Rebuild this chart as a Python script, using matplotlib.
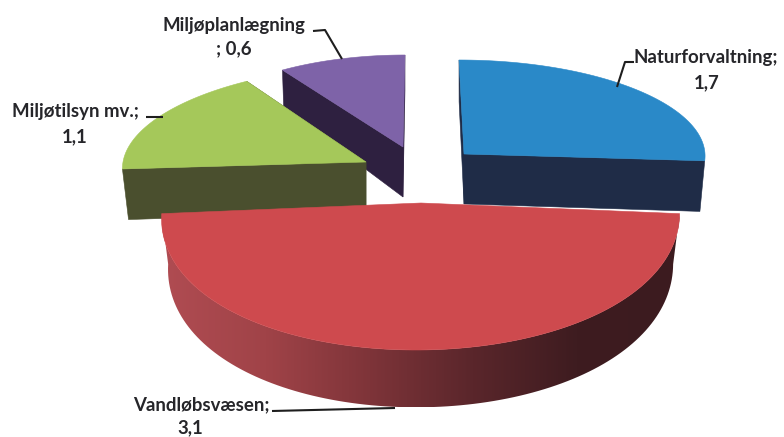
import numpy as np
import matplotlib
matplotlib.use("Agg")
import matplotlib.pyplot as plt
from matplotlib.colors import LinearSegmentedColormap
from matplotlib.patches import Polygon

categories = ["Naturforvaltning", "Vandløbsvæsen", "Miljøtilsyn mv.", "Miljøplanlægning"]
values = [1.7, 3.1, 1.1, 0.6]
label_lines = [["Naturforvaltning;", "1,7"], ["Vandløbsvæsen;", "3,1"],
               ["Miljøtilsyn mv.;", "1,1"], ["Miljøplanlægning", "; 0,6"]]
top_colors = ["#2A89C8", "#CE4A4E", "#A5C85A", "#7E63A8"]
side_colors = ["#1F2C47", None, "#4A4F2E", "#2E2040"]

# apex x, apex y, rx, ry, skew, mid depth, depth slope, bottom-radius scale, front widening, shear
geometry = {
    "Naturforvaltning": (464, 154, 241, 94, -5, 50, 10, 0.98, 0.0, 0.0),
    "Vandløbsvæsen": (421, 203, 258, 147, 5, 50, 11, 0.975, 0.03, -15.0),
    "Miljøtilsyn mv.": (366, 162, 243, 96.5, 16.6, 50, 10, 0.975, 0.0, 0.0),
    "Miljøplanlægning": (403, 147, 223, 92, 2, 50, 15.5, 0.99, 0.0, 0.0),
}
label_pos = {
    "Naturforvaltning": [(706, 57), (707, 83)],
    "Vandløbsvæsen": [(201, 405), (190, 428)],
    "Miljøtilsyn mv.": [(75, 111), (75, 137)],
    "Miljøplanlægning": [(234, 25), (234, 49)],
}
leaders = {
    "Naturforvaltning": [(634, 62), (625, 62), (617, 87)],
    "Vandløbsvæsen": [(272, 411), (395, 408)],
    "Miljøtilsyn mv.": [(146, 117), (163, 117)],
    "Miljøplanlægning": [(313, 31), (325, 30), (342, 59)],
}

fig = plt.figure(figsize=(7.84, 4.37), dpi=100, facecolor="white")
ax = fig.add_axes([0, 0, 1, 1])
ax.set_xlim(0, 784)
ax.set_ylim(437, 0)
ax.axis("off")


def rim(geo, t, lower=False):
    ax0, ay0, rx, ry, skew, d0, d1, k, p, q = geo
    wide = 1 - p * np.cos(t)
    dx = rx * wide * np.sin(t) + (skew + q * np.sin(t)) * np.cos(t)
    if lower:
        return ax0 + k * dx, ay0 - k * ry * np.cos(t) + d0 - d1 * np.cos(t)
    return ax0 + dx, ay0 - ry * np.cos(t)


edges = np.deg2rad(np.cumsum([0] + values) / sum(values) * 360)
wedges = {c: (edges[i], edges[i + 1]) for i, c in enumerate(categories)}
red_side = LinearSegmentedColormap.from_list(
    "red_side", ["#B04C52", "#A04348", "#7E3439", "#5A262B", "#3E1C20", "#3C1B1F"])


def draw(i, z):
    cat = categories[i]
    geo = geometry[cat]
    a, b = wedges[cat]
    ts = np.linspace(a, b, 120)
    ax0, ay0 = geo[0], geo[1]
    d0 = geo[5]
    xt, yt = rim(geo, ts)
    xb, yb = rim(geo, ts, lower=True)
    apex_low = (ax0, ay0 + d0)

    if cat == "Vandløbsvæsen":
        poly = np.r_[np.c_[xt, yt], np.c_[xb, yb][::-1]]
        patch = Polygon(poly, closed=True, fc="none", ec="none", zorder=z)
        ax.add_patch(patch)
        x0, x1 = poly[:, 0].min(), poly[:, 0].max()
        y0, y1 = poly[:, 1].min(), poly[:, 1].max()
        im = ax.imshow(np.linspace(0, 1, 256)[None, :], cmap=red_side, aspect="auto",
                       extent=[x0, x1, y1, y0], zorder=z, interpolation="bilinear")
        im.set_clip_path(patch)
        ax.set_xlim(0, 784)
        ax.set_ylim(437, 0)
    else:
        color = side_colors[i]
        for t in (a, b):
            px, py = rim(geo, t)
            qx, qy = rim(geo, t, lower=True)
            ax.add_patch(Polygon([(ax0, ay0), (px, py), (qx, qy), apex_low], closed=True,
                                 fc=color, ec=color, lw=0.4, zorder=z))
    ax.add_patch(Polygon(np.r_[[(ax0, ay0)], np.c_[xt, yt]], closed=True,
                         fc=top_colors[i], ec=top_colors[i], lw=0.4, zorder=z + 0.5))


for order, idx in enumerate([3, 2, 0, 1]):
    draw(idx, 2 + order)

for cat, lines in zip(categories, label_lines):
    for txt, (x, y) in zip(lines, label_pos[cat]):
        ax.text(x, y, txt, ha="center", va="center", family="Lato", weight="bold",
                fontsize=13.4, color="#26262A", zorder=10)
    pts = np.array(leaders[cat])
    ax.plot(pts[:, 0], pts[:, 1], color="#1E1E1E", lw=1.5, zorder=9,
            solid_capstyle="butt")

fig.savefig("out.png", dpi=100)
